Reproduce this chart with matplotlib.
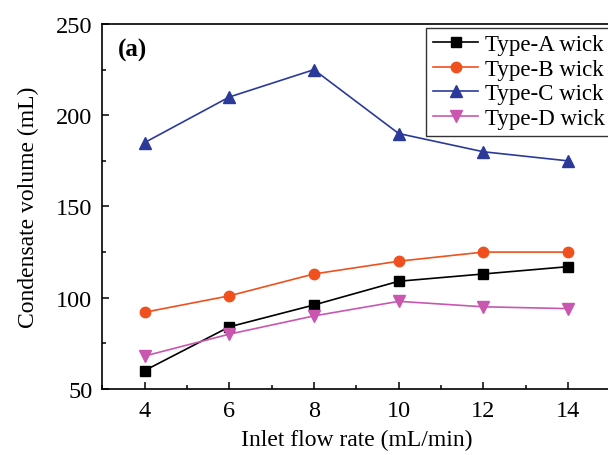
import numpy as np
import matplotlib.pyplot as plt
from matplotlib.ticker import MultipleLocator

flow = [4, 6, 8, 10, 12, 14]
type_a = [60, 84, 96, 109, 113, 117]
type_b = [92, 101, 113, 120, 125, 125]
type_c = [185, 210, 225, 190, 180, 175]
type_d = [68, 80, 90, 98, 95, 94]

plt.rcParams['font.family'] = ['Liberation Serif', 'DejaVu Serif']

fig = plt.figure(figsize=(6.08, 4.56), dpi=100)
ax = fig.add_axes([0.168, 0.145, 0.836, 0.80])

ax.plot(flow, type_a, color='black', marker='s', markersize=6.5, lw=1.2, label='Type-A wick')
ax.plot(flow, type_b, color='#F0501E', marker='o', markersize=7.5, lw=1.2, label='Type-B wick')
ax.plot(flow, type_c, color='#2B3A9A', marker='^', markersize=8, lw=1.2, label='Type-C wick')
ax.plot(flow, type_d, color='#C957B0', marker='v', markersize=8, lw=1.2, label='Type-D wick')

ax.set_xlim(3, 15)
ax.set_ylim(50, 250)
ax.xaxis.set_major_locator(MultipleLocator(2))
ax.xaxis.set_minor_locator(MultipleLocator(1))
ax.yaxis.set_major_locator(MultipleLocator(50))
ax.yaxis.set_minor_locator(MultipleLocator(25))
ax.tick_params(which='both', direction='in', labelsize=17.5, width=1.1)
ax.tick_params(which='major', length=5)
ax.tick_params(which='minor', length=3)
ax.tick_params(axis='x', which='major', pad=8)
ax.tick_params(axis='y', which='major', pad=7)
for s in ax.spines.values():
    s.set_linewidth(1.2)
ax.spines['right'].set_visible(False)

ax.set_xlabel('Inlet flow rate (mL/min)', fontsize=17, labelpad=6)
ax.set_ylabel('Condensate volume (mL)', fontsize=17, labelpad=12)
ax.text(0.03, 0.93, '(a)', transform=ax.transAxes, fontsize=18, fontweight='bold', va='center')

leg = ax.legend(loc='upper right', bbox_to_anchor=(1.009, 1.0), fontsize=16.5, frameon=True,
                fancybox=False, edgecolor='black', borderaxespad=0.15, handlelength=1.95,
                labelspacing=0.15, borderpad=0.3, handletextpad=0.3)
leg.get_frame().set_linewidth(1.0)

fig.savefig('out.png', dpi=100)
